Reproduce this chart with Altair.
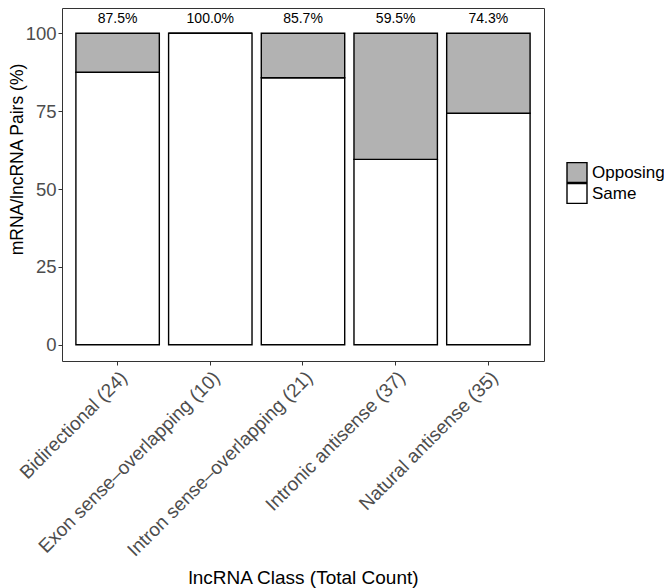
import altair as alt
import pandas as pd

categories = [
    "Bidirectional (24)",
    "Exon sense\u2013overlapping (10)",
    "Intron sense\u2013overlapping (21)",
    "Intronic antisense (37)",
    "Natural antisense (35)",
]
same_pct = [87.5, 100.0, 85.7, 59.5, 74.3]
opposing_pct = [12.5, 0.0, 14.3, 40.5, 25.7]
types = ["Opposing", "Same"]
colors = ["#b2b2b2", "#ffffff"]

rows = []
for c, s, o in zip(categories, same_pct, opposing_pct):
    rows.append({"cls": c, "type": "Same", "pct": s})
    rows.append({"cls": c, "type": "Opposing", "pct": o})
long_df = pd.DataFrame(rows)
lab_df = pd.DataFrame({"cls": categories, "same": same_pct})

FONT = "Liberation Sans"

x_enc = alt.X(
    "cls:N",
    sort=categories,
    title="lncRNA Class (Total Count)",
    scale=alt.Scale(paddingInner=0.1, paddingOuter=0.15),
    axis=alt.Axis(
        labelAngle=-45, labelAlign="right", labelBaseline="top",
        labelFontSize=19, labelColor="#4d4d4d", labelFont=FONT,
        labelPadding=3, tickSize=4, tickColor="#333333", domain=False,
        titleFontSize=19, titleFont=FONT, titleColor="#000000",
        titleFontWeight="normal", titleX=241, titleY=216,
        titleBaseline="middle", titleAlign="center", labelLimit=400,
    ),
)

bars = alt.Chart(long_df).transform_calculate(
    ord="datum.type == 'Same' ? 0 : 1"
).mark_bar(stroke="black", strokeWidth=1.4).encode(
    x=x_enc,
    y=alt.Y(
        "pct:Q",
        stack="zero",
        title="mRNA/lncRNA Pairs (%)",
        scale=alt.Scale(domain=[-5.2, 108.1], nice=False, zero=False),
        axis=alt.Axis(
            values=[0, 25, 50, 75, 100], grid=False, domain=False,
            tickSize=4, tickColor="#333333", labelPadding=2,
            labelFontSize=18.5, labelColor="#4d4d4d", labelFont=FONT,
            titleFontSize=17.5, titleFont=FONT, titleColor="#000000",
            titleFontWeight="normal", titleX=-45, titleY=151,
            titleBaseline="middle", titleAlign="center", titleAngle=270,
        ),
    ),
    color=alt.Color(
        "type:N",
        scale=alt.Scale(domain=types, range=colors),
        legend=alt.Legend(
            title=None, orient="none", legendX=504, legendY=154,
            symbolType="square", symbolSize=400, symbolStrokeColor="black",
            symbolStrokeWidth=1.4, labelFontSize=17, labelFont=FONT,
            labelColor="#000000", rowPadding=0, clipHeight=21, padding=0,
            labelOffset=4,
        ),
    ),
    order=alt.Order("ord:Q"),
)

texts = alt.Chart(lab_df).transform_calculate(
    lab="format(datum.same, '.1f') + '%'"
).mark_text(
    dy=-14.4, fontSize=14, font=FONT, color="black", baseline="middle"
).encode(
    x=alt.X("cls:N", sort=categories),
    y=alt.datum(100),
    text="lab:N",
)

chart = alt.layer(bars, texts).properties(
    width=482, height=353,
    background="white",
    autosize=alt.AutoSizeParams(type="none"),
    padding={"left": 54, "top": 0, "right": 120, "bottom": 227},
).configure_view(
    stroke="#333333", strokeWidth=1
)

chart.save("out.html", embed_options={"renderer": "svg", "actions": False})
